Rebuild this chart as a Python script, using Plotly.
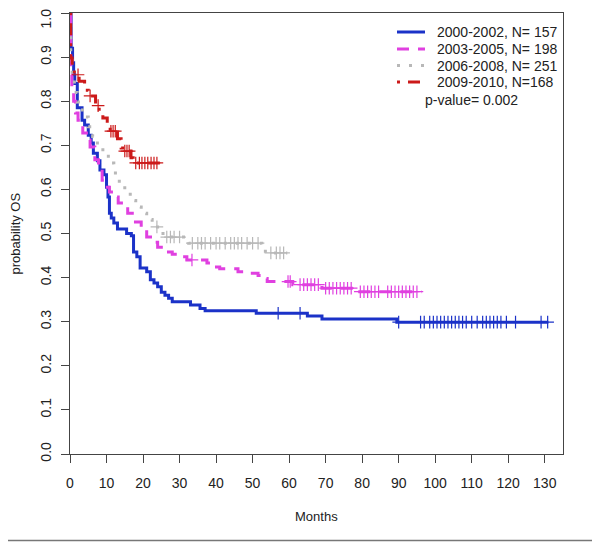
import numpy as np
import plotly.graph_objects as go

# ---------------- data ----------------
labels = ["2000-2002, N= 157", "2003-2005, N= 198", "2006-2008, N= 251", "2009-2010, N=168"]
p_value_text = "p-value= 0.002"

blue_t = [0, 0.3, 0.7, 1.0, 1.3, 2.0, 3.3, 4.0, 5.0, 5.8, 6.4, 7.5, 8.2, 9.3, 10.0, 10.4, 10.8, 11.3,
          12.0, 13.0, 15.5, 16.8, 17.4, 18.3, 19.2, 21.0, 22.0, 23.0, 24.0, 25.0, 26.0, 27.0, 28.0,
          33.0, 35.6, 37.0, 51.0, 65.0, 69.0, 89.5]
blue_s = [1.0, 0.92, 0.887, 0.86, 0.84, 0.785, 0.757, 0.746, 0.723, 0.705, 0.682, 0.665, 0.644, 0.633,
          0.605, 0.583, 0.546, 0.535, 0.524, 0.510, 0.500, 0.495, 0.458, 0.447, 0.422, 0.413, 0.395,
          0.388, 0.379, 0.367, 0.360, 0.353, 0.345, 0.338, 0.330, 0.325, 0.319, 0.313, 0.306, 0.299]
blue_end = 131.0
blue_cens = [57, 63, 90, 96, 97, 98.5, 99.5, 100.5, 101.5, 102.5, 103.5, 104.5, 105.5, 106.5, 107.5,
             108.5, 110, 111.5, 113, 114, 115, 116, 117, 118, 119.5, 122, 129, 130.8]

mag_t = [0, 0.2, 0.5, 1.0, 1.5, 2.2, 3.5, 4.5, 5.5, 6.8, 7.8, 8.8, 9.8, 10.8, 11.8, 13.2, 15.8, 17.5,
         19.5, 21.0, 22.5, 24.0, 26.0, 28.0, 30.0, 32.0, 37.5, 39.0, 41.0, 46.0, 48.5, 51.5, 52.5,
         54.0, 61.0, 69.0, 78.0]
mag_s = [1.0, 0.86, 0.825, 0.80, 0.773, 0.757, 0.728, 0.712, 0.696, 0.667, 0.649, 0.621, 0.605, 0.594,
         0.583, 0.569, 0.546, 0.526, 0.512, 0.492, 0.480, 0.469, 0.458, 0.453, 0.447, 0.440, 0.433,
         0.424, 0.420, 0.413, 0.410, 0.405, 0.398, 0.391, 0.384, 0.376, 0.368]
mag_end = 96.3
mag_cens = [33.4, 59.7, 60.3, 63, 64, 65, 66, 67, 68, 70, 71, 72, 73, 74, 75, 76, 77, 79.5, 80.5,
            81.5, 82.5, 83.5, 84.5, 87, 88, 89, 90, 91, 92, 93, 94, 95]

gray_t = [0, 0.2, 0.6, 1.2, 2.0, 3.0, 4.0, 5.0, 6.2, 7.5, 9.0, 10.5, 12.0, 13.5, 15.0, 16.5, 18.0,
          19.5, 21.0, 22.5, 25.0, 26.0, 31.5, 32.5, 52.5, 53.5]
gray_s = [1.0, 0.90, 0.848, 0.82, 0.798, 0.78, 0.764, 0.742, 0.72, 0.70, 0.682, 0.66, 0.637, 0.614,
          0.595, 0.575, 0.56, 0.546, 0.532, 0.515, 0.500, 0.492, 0.483, 0.478, 0.467, 0.456]
gray_end = 59.5
gray_cens = [23.8, 26.5, 27.5, 28.5, 30, 33.5, 35, 36, 37, 38.5, 40, 41, 42.5, 44, 45, 46, 47, 48.5,
             50, 51.5, 55, 56.5, 57.5, 58.5]

red_t = [0, 0.2, 0.6, 1.2, 2.5, 4.0, 5.0, 7.0, 8.0, 9.0, 10.2, 11.0, 13.0, 14.0, 14.8, 16.7, 17.3]
red_s = [1.0, 0.898, 0.875, 0.86, 0.845, 0.825, 0.812, 0.79, 0.775, 0.762, 0.74, 0.732, 0.715, 0.694,
         0.687, 0.672, 0.66]
red_end = 24.6
red_cens = [2.2, 5.5, 7.7, 11.2, 11.8, 12.4, 15.0, 15.6, 16.2, 18.0, 19.0, 19.7, 20.5, 21.3, 22.2,
            23.0, 23.8]

x_ticks = list(range(0, 131, 10))
y_ticks = [0.0, 0.1, 0.2, 0.3, 0.4, 0.5, 0.6, 0.7, 0.8, 0.9, 1.0]

# ---------------- styles ----------------
colors = ["#1b32c8", "#e040e0", "#b8b8b8", "#cc1a1a"]
dashes = ["solid", "12px,9px", "3px,9px", "3px,8px,12px,8px"]
groups = [(blue_t, blue_s, blue_end, blue_cens),
          (mag_t, mag_s, mag_end, mag_cens),
          (gray_t, gray_s, gray_end, gray_cens),
          (red_t, red_s, red_end, red_cens)]

FONT = "Liberation Sans, Arial, sans-serif"
# the page body has an 8px margin, so the figure is 8px smaller and offset
OFF = 8
W, H = 600 - OFF, 542 - OFF
L, R, T, B = 70 - OFF, 37, 13 - OFF, 88
pw, ph = W - L - R, H - T - B


def px2paper_x(px):          # px in window coordinates
    return (px - OFF - L) / pw


def py2paper_y(py):          # py in window coordinates
    return (H - B - (py - OFF)) / ph


def step_value(ts, ss, t):
    i = np.searchsorted(np.asarray(ts), t, side="right") - 1
    return np.asarray(ss)[i]


fig = go.Figure()
for (ts, ss, tend, cens), col, dash, lab in zip(groups, colors, dashes, labels):
    fig.add_trace(go.Scatter(
        x=list(ts) + [tend], y=list(ss) + [ss[-1]], mode="lines",
        line=dict(color=col, width=3, dash=dash, shape="hv"),
        name=lab, showlegend=False, hoverinfo="skip"))
    fig.add_trace(go.Scatter(
        x=cens, y=[float(step_value(ts, ss, c)) for c in cens], mode="markers",
        marker=dict(symbol="cross-thin", size=9, line=dict(color=col, width=1.2)),
        showlegend=False, hoverinfo="skip", cliponaxis=False))

TXT = dict(family=FONT, size=14, color="#222")
shapes = []
annotations = []
legend_rows_y = [32, 49, 65.5, 82]
for col, dash, lab, ry in zip(colors, dashes, labels, legend_rows_y):
    shapes.append(dict(type="line", xref="paper", yref="paper",
                       x0=px2paper_x(397), x1=px2paper_x(425),
                       y0=py2paper_y(ry), y1=py2paper_y(ry),
                       line=dict(color=col, width=3, dash=dash)))
    annotations.append(dict(text=lab, xref="paper", yref="paper", x=px2paper_x(435),
                            y=py2paper_y(ry), xanchor="left", yanchor="middle",
                            showarrow=False, font=TXT))
annotations.append(dict(text=p_value_text, xref="paper", yref="paper", x=px2paper_x(471.5),
                        y=py2paper_y(100), xanchor="center", yanchor="middle",
                        showarrow=False, font=TXT))
annotations.append(dict(text="Months", xref="paper", yref="paper", x=0.5,
                        y=py2paper_y(516), xanchor="center", yanchor="middle",
                        showarrow=False, font=dict(family=FONT, size=13, color="#222")))
annotations.append(dict(text="probability OS", xref="paper", yref="paper", x=px2paper_x(15),
                        y=0.5, xanchor="center", yanchor="middle", textangle=-90,
                        showarrow=False, font=dict(family=FONT, size=13, color="#222")))
# top tick label, nudged down so it stays inside the page
y_ticktext = [f"{v:.1f}" for v in y_ticks]
top_label = y_ticktext[-1]
y_ticktext[-1] = ""
annotations.append(dict(text=top_label, xref="paper", yref="paper", x=px2paper_x(45.5),
                        y=py2paper_y(19), xanchor="center", yanchor="middle", textangle=-90,
                        showarrow=False, font=TXT))
# bottom frame line of the image
shapes.append(dict(type="line", xref="paper", yref="paper",
                   x0=px2paper_x(OFF), x1=px2paper_x(600),
                   y0=py2paper_y(540.5), y1=py2paper_y(540.5),
                   line=dict(color="#777", width=1.5)))

axis_common = dict(showgrid=False, zeroline=False, showline=True, mirror=True,
                   linecolor="#444", linewidth=1, ticks="outside", ticklen=8,
                   tickcolor="#444", tickwidth=1, automargin=False,
                   ticklabeloverflow="allow", tickfont=TXT)

fig.update_layout(
    width=W, height=H, margin=dict(l=L, r=R, t=T, b=B, autoexpand=False),
    paper_bgcolor="white", plot_bgcolor="white",
    xaxis=dict(range=[0, 135], tickvals=x_ticks, ticklabelstandoff=8, **axis_common),
    yaxis=dict(range=[0, 1], tickvals=y_ticks, ticktext=y_ticktext,
               tickangle=-90, ticklabelstandoff=4, **axis_common),
    shapes=shapes, annotations=annotations, showlegend=False,
)

fig.write_html("out.html")
